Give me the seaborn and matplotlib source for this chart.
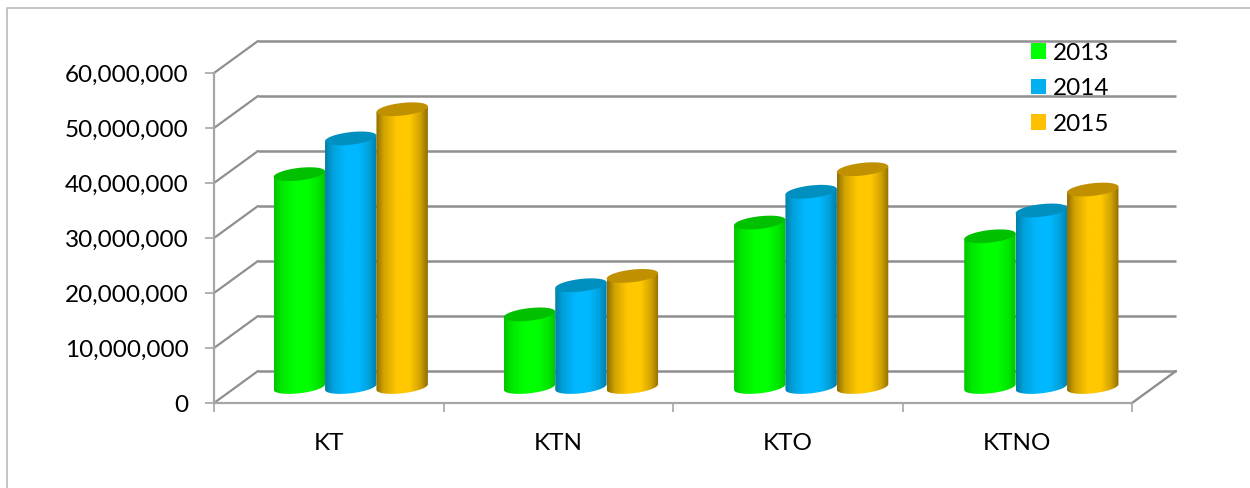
import numpy as np
import pandas as pd
import matplotlib
matplotlib.use("Agg")
import matplotlib.pyplot as plt
from matplotlib.colors import to_rgb
from matplotlib.lines import Line2D
from matplotlib.patches import Patch, Polygon
from matplotlib.ticker import FuncFormatter, FixedLocator
import seaborn as sns

categories = ["KT", "KTN", "KTO", "KTNO"]
years = ["2013", "2014", "2015"]
values_2013 = [38.7e6, 13.2e6, 29.9e6, 27.4e6]
values_2014 = [45.2e6, 18.5e6, 35.5e6, 32.1e6]
values_2015 = [50.5e6, 20.2e6, 39.6e6, 35.9e6]
y_ticks = [0, 10e6, 20e6, 30e6, 40e6, 50e6, 60e6]

legend_colors = ["#00ff00", "#00b0f0", "#ffc000"]
side_colors = ["#00c400", "#007fa8", "#8f6c00"]
mid_colors = ["#00ff00", "#00b8ff", "#ffc800"]
cap_colors = ["#00c000", "#0090c0", "#c09000"]
GRID = "#8f8f8f"
AXIS = "#a6a6a6"

W, H = 1250, 488
sns.set_theme(style="white")
plt.rcParams["font.family"] = ["Lato", "DejaVu Sans"]

df = pd.DataFrame({
    "category": categories * 3,
    "year": np.repeat(years, 4),
    "value": values_2013 + values_2014 + values_2015,
})

fig = plt.figure(figsize=(W / 100, H / 100), dpi=100, facecolor="white")
ax = fig.add_axes([214 / W, (H - 403) / H, (1132 - 214) / W, 330 / H])
ax.patch.set_alpha(0)

sns.barplot(data=df, x="category", y="value", hue="year", order=categories,
            hue_order=years, palette=legend_colors, width=0.672, gap=0,
            dodge=True, errorbar=None, legend=False, ax=ax)

px_x = 4 / (1132 - 214)
px_y = 60e6 / 330
depth_x, depth_y = 44 * px_x, 32 * px_y
ell_b, ell_s = 6.3 * px_y, 2.8 * px_y
group_drift = 0.7 * px_x
t_low = np.linspace(np.pi, 2 * np.pi, 60)
t_all = np.linspace(0, 2 * np.pi, 120)

# Back wall, side wall and floor
for v in y_ticks:
    ax.plot([-0.5 + depth_x, 3.5 + depth_x], [v + depth_y] * 2, color=GRID,
            lw=1.8, clip_on=False, zorder=1, solid_capstyle="butt")
    ax.plot([-0.5, -0.5 + depth_x], [v, v + depth_y], color=GRID, lw=1.6,
            clip_on=False, zorder=1)
ax.plot([3.5, 3.5 + depth_x], [0, depth_y], color=GRID, lw=1.7, clip_on=False, zorder=1)

# Cylinders, built from the bars seaborn placed
stops = [0, 0.15, 0.4, 0.65, 0.85, 1]
blend = [0, 0.6, 1, 1, 0.6, 0]
u = np.interp(np.linspace(0, 1, 256), stops, blend)
for i, container in enumerate(ax.containers):
    side, mid = np.array(to_rgb(side_colors[i])), np.array(to_rgb(mid_colors[i]))
    grad = (side[None, :] * (1 - u[:, None]) + mid[None, :] * u[:, None])[None, :, :]
    for j, bar in enumerate(container):
        val = bar.get_height()
        bar.set_alpha(0)
        cx = bar.get_x() + bar.get_width() / 2 + depth_x / 2 + j * group_drift
        a = bar.get_width() / 2
        base = depth_y / 2
        top = val + base
        z = 3 + j + i * 0.1
        lower = np.column_stack([cx + a * np.cos(t_low),
                                 base + ell_b * np.sin(t_low) + ell_s * np.cos(t_low)])
        upper = np.array([[cx + a, top + ell_s], [cx - a, top - ell_s]])
        body = Polygon(np.vstack([lower, upper]), closed=True, fc="none", ec="none",
                       transform=ax.transData, zorder=z)
        ax.add_patch(body)
        im = ax.imshow(grad, extent=(cx - a, cx + a, 0, top + 2 * ell_b), aspect="auto",
                       interpolation="bilinear", zorder=z, origin="lower")
        im.set_clip_path(body)
        cap = np.column_stack([cx + a * np.cos(t_all),
                               top + ell_b * np.sin(t_all) + ell_s * np.cos(t_all)])
        ax.add_patch(Polygon(cap, closed=True, fc=cap_colors[i], ec="none", zorder=z + 0.01))

ax.set_xlim(-0.5, 3.5)
ax.set_ylim(0, 60e6)
ax.set_xlabel("")
ax.set_ylabel("")
ax.set_yticks(y_ticks)
ax.yaxis.set_major_formatter(FuncFormatter(lambda v, _: f"{int(v):,}"))
ax.xaxis.set_minor_locator(FixedLocator([-0.5, 0.5, 1.5, 2.5, 3.5]))
for s in ["top", "right"]:
    ax.spines[s].set_visible(False)
for s in ["left", "bottom"]:
    ax.spines[s].set_color(AXIS)
    ax.spines[s].set_linewidth(1.6)
    ax.spines[s].set_zorder(2)
ax.tick_params(axis="y", length=6.5, width=1.2, color=AXIS, pad=12, labelsize=17.5,
               labelcolor="black", left=True)
ax.tick_params(axis="x", which="major", length=0, pad=21.5, labelsize=17.5, labelcolor="black")
ax.tick_params(axis="x", which="minor", length=6.5, width=1.2, color=AXIS, bottom=True)

handles = [Patch(fc=c, ec="none") for c in legend_colors]
leg = ax.legend(handles, years, loc="upper left", frameon=False, fontsize=17.5,
                labelcolor="black",
                bbox_to_anchor=(1031 / W, (H - 42.5) / H), bbox_transform=fig.transFigure,
                borderpad=0, borderaxespad=0, handlelength=0.62, handleheight=0.62,
                handletextpad=0.28, labelspacing=0.6)
leg.set_zorder(20)

# Outer frame
fig.add_artist(Line2D([7 / W, 7 / W, 1], [0, (H - 8) / H, (H - 8) / H], color="#b4b4b4", lw=1.1))

fig.savefig("out.png", dpi=100, facecolor="white")
